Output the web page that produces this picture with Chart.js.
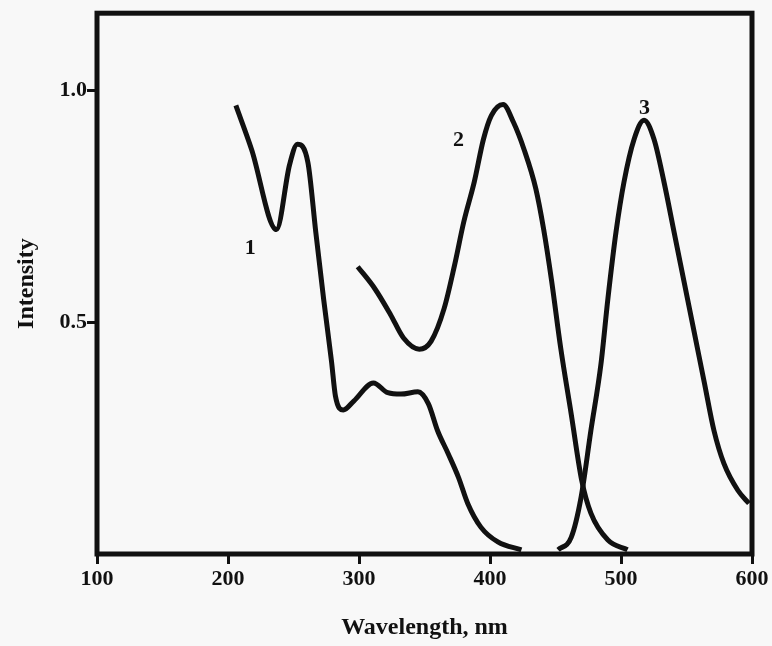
<!DOCTYPE html>
<html>
<head>
<meta charset="utf-8">
<script src="https://cdn.jsdelivr.net/npm/chart.js@4.4.1/dist/chart.umd.min.js"></script>
<style>
  html, body { margin: 0; padding: 0; background: #f8f8f8; }
  #wrap { width: 772px; height: 646px; position: relative; }
</style>
</head>
<body>
<div id="wrap"><canvas id="spectra" width="772" height="646"></canvas></div>
<script>
// curve 1
const wl1 = [206, 218, 237, 247, 253, 261, 267, 273, 279, 282, 288, 296, 311, 322, 332, 345, 353, 360, 368, 376, 383, 393, 406, 424];
const int1 = [0.968, 0.873, 0.70, 0.84, 0.884, 0.845, 0.695, 0.55, 0.416, 0.341, 0.311, 0.33, 0.369, 0.348, 0.345, 0.35, 0.324, 0.266, 0.217, 0.165, 0.109, 0.058, 0.026, 0.009];
// curve 2
const wl2 = [299, 312, 324, 334, 346, 355, 365, 373, 380, 388, 395, 401, 410, 418, 426, 435, 441, 447, 454, 462, 470, 477, 490, 505];
const int2 = [0.62, 0.573, 0.517, 0.466, 0.442, 0.459, 0.53, 0.624, 0.717, 0.803, 0.895, 0.946, 0.970, 0.931, 0.873, 0.788, 0.70, 0.59, 0.444, 0.302, 0.159, 0.088, 0.03, 0.009];
// curve 3
const wl3 = [452, 462, 469.5, 477, 484.7, 490, 496.2, 502.3, 510, 517.6, 525.2, 532.8, 540.5, 548.1, 555.7, 563.4, 571, 578.6, 589.3, 597.7];
const int3 = [0.009, 0.036, 0.122, 0.266, 0.41, 0.551, 0.695, 0.803, 0.895, 0.936, 0.895, 0.803, 0.695, 0.588, 0.481, 0.373, 0.266, 0.195, 0.137, 0.109];

const xTicks = [100, 200, 300, 400, 500, 600];
const yTicks = [0.5, 1.0];

// curve numbers placed next to the lines
const curveNames = ['1', '2', '3'];
const nameX = [217, 376, 518];
const nameY = [0.66, 0.893, 0.962];

const INK = '#111';
const FONT = '"Liberation Serif", "DejaVu Serif", serif';

function pts(xs, ys) {
    return xs.map(function (x, i) { return { x: x, y: ys[i] }; });
}

function lineSet(xs, ys) {
    return {
        data: pts(xs, ys),
        borderColor: INK,
        borderWidth: 5,
        pointRadius: 0,
        fill: false,
        cubicInterpolationMode: 'monotone'
    };
}

// box round the plot area and the curve numbers
const framePlugin = {
    id: 'frame',
    afterDraw: function (chart) {
        const ctx = chart.ctx;
        const a = chart.chartArea;
        ctx.save();
        ctx.strokeStyle = INK;
        ctx.lineWidth = 5;
        ctx.strokeRect(a.left, a.top, a.right - a.left, a.bottom - a.top);
        const xs = chart.scales.x, ys = chart.scales.y;
        ctx.fillStyle = INK;
        ctx.font = 'bold 22px ' + FONT;
        ctx.textAlign = 'center';
        ctx.textBaseline = 'middle';
        curveNames.forEach(function (n, i) {
            ctx.fillText(n, xs.getPixelForValue(nameX[i]), ys.getPixelForValue(nameY[i]));
        });
        ctx.restore();
    }
};

const bgPlugin = {
    id: 'bg',
    beforeDraw: function (chart) {
        const ctx = chart.ctx;
        ctx.save();
        ctx.fillStyle = '#f8f8f8';
        ctx.fillRect(0, 0, chart.width, chart.height);
        ctx.restore();
    }
};

new Chart(document.getElementById('spectra').getContext('2d'), {
    type: 'line',
    data: {
        datasets: [lineSet(wl1, int1), lineSet(wl2, int2), lineSet(wl3, int3)]
    },
    options: {
        responsive: false,
        animation: false,
        layout: { padding: { top: 10, right: 20, left: 0, bottom: 0 } },
        plugins: {
            legend: { display: false },
            tooltip: { enabled: false }
        },
        scales: {
            x: {
                type: 'linear',
                min: 100,
                max: 600,
                afterBuildTicks: function (s) { s.ticks = xTicks.map(function (v) { return { value: v }; }); },
                afterFit: function (s) { s.height = 92; },
                border: { display: false },
                grid: { drawOnChartArea: false, drawTicks: true, tickLength: 10, color: INK, lineWidth: 3 },
                ticks: { color: INK, font: { family: FONT, size: 22, weight: 'bold' }, padding: 2, maxRotation: 0 },
                title: { display: true, text: 'Wavelength, nm', color: INK, font: { family: FONT, size: 24, weight: 'bold' }, padding: { top: 4, bottom: 4 } }
            },
            y: {
                min: 0,
                max: 1.167,
                afterBuildTicks: function (s) { s.ticks = yTicks.map(function (v) { return { value: v }; }); },
                afterFit: function (s) { s.width = 97; },
                border: { display: false },
                grid: { drawOnChartArea: false, drawTicks: true, tickLength: 10, color: INK, lineWidth: 3 },
                ticks: {
                    color: INK,
                    font: { family: FONT, size: 22, weight: 'bold' },
                    padding: 0,
                    callback: function (v) { return v.toFixed(1); }
                },
                title: { display: true, text: 'Intensity', color: INK, font: { family: FONT, size: 24, weight: 'bold' }, padding: { top: 12, bottom: 4 } }
            }
        }
    },
    plugins: [bgPlugin, framePlugin]
});
</script>
</body>
</html>
